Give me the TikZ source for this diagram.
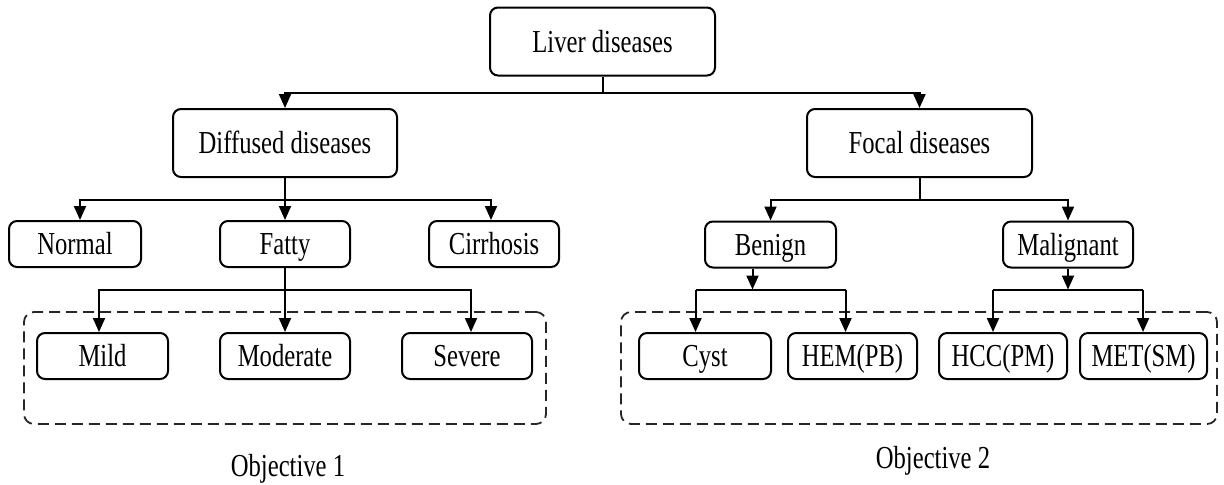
\documentclass[tikz,border=0pt]{standalone}
\usepackage{fontspec}
\setmainfont{Liberation Serif}[FakeStretch=0.77]
\usetikzlibrary{arrows.meta,calc}
\begin{document}
\begin{tikzpicture}[x=0.5pt,y=-0.5pt,
  txt/.style={font=\fontsize{16}{19}\selectfont, text height=10.5pt, text depth=0pt},
  box/.style={txt, draw, line width=1pt, rounded corners=4pt, inner sep=0pt},
  big/.style={box, minimum width=112pt, minimum height=34pt},
  small/.style={box, minimum width=65pt, minimum height=23pt},
  link/.style={line width=1pt},
  arr/.style={link, -{Triangle[length=7pt,width=6pt]}},
  dashbox/.style={draw=black!85, line width=0.9pt, dash pattern=on 5.5pt off 3pt,
    rounded corners=5pt, inner sep=0pt},
  lbl/.style={txt, inner sep=0pt}
]
\useasboundingbox (0,0) rectangle (1224,484);

% objective frames
\node[dashbox, minimum width=261pt, minimum height=56pt] (frame1) at (285,368) {};
\node[dashbox, minimum width=298pt, minimum height=56pt] (frame2) at (919,368) {};

% top levels
\node[big, minimum width=112.5pt] (liver) at (602.5,41.5) {Liver diseases};
\node[big] (diffused) at (285,143) {Diffused diseases};
\node[big, minimum width=112.5pt] (focal) at (919.5,143) {Focal diseases};

% second level
\node[small, minimum width=66pt] (normal) at (75,244) {Normal};
\node[small] (fatty) at (285,244) {Fatty};
\node[small] (cirrhosis) at (494,244) {Cirrhosis};
\node[small, minimum width=65.5pt] (benign) at (770.5,244.5) {Benign};
\node[small] (malignant) at (1068,244.5) {Malignant};

% third level
\node[small, minimum width=65.5pt] (mild) at (102.5,356) {Mild};
\node[small] (moderate) at (285,356) {Moderate};
\node[small] (severe) at (467,356) {Severe};
\node[small, minimum width=66pt] (cyst) at (705,356) {Cyst};
\node[small, minimum width=64.5pt] (hem) at (852.5,356) {HEM(PB)};
\node[small, minimum width=64pt] (hcc) at (1003,356) {HCC(PM)};
\node[small, minimum width=63.5pt] (met) at (1143.5,356) {MET(SM)};

% labels
\node[lbl] (obj1) at (288,466) {Objective 1};
\node[lbl] (obj2) at (933,458) {Objective 2};

% Liver diseases -> two groups
\draw[link] (liver.south) -- ++(0,16.5) coordinate (b0);
\draw[arr] (b0) -| (diffused.north);
\draw[arr] (b0) -| (focal.north);

% Diffused diseases -> Normal, Fatty, Cirrhosis
\draw[link] (diffused.south) -- ++(0,22) coordinate (b1);
\draw[arr] (b1) -| ($(normal.north)+(5,0)$);
\draw[arr] (b1) -- (fatty.north);
\draw[arr] (b1) -| ($(cirrhosis.north)+(-3,0)$);

% Focal diseases -> Benign, Malignant
\draw[link] (focal.south) -- ++(0,22) coordinate (b2);
\draw[arr] (b2) -| (benign.north);
\draw[arr] (b2) -| (malignant.north);

% Fatty -> grades
\draw[link] (fatty.south) -- ++(0,22) coordinate (b3);
\draw[arr] (b3) -| ($(mild.north)+(-3.5,0)$);
\draw[arr] (b3) -- (moderate.north);
\draw[arr] (b3) -| ($(severe.north)+(4,0)$);

% Benign -> Cyst, HEM
\draw[arr] ($(benign.south)+(-18,0)$) -- ++(0,21) coordinate (b4);
\draw[link] (b4) -- ++(-57,0) coordinate (b4l);
\draw[link] (b4) -- ++(93,0) coordinate (b4r);
\draw[arr] (b4l) -- (b4l |- cyst.north);
\draw[arr] (b4r) -- (b4r |- hem.north);

% Malignant -> HCC, MET
\draw[arr] (malignant.south) -- ++(0,21) coordinate (b5);
\draw[link] (b5) -- ++(-75,0) coordinate (b5l);
\draw[link] (b5) -- ++(75,0) coordinate (b5r);
\draw[arr] (b5l) -- (b5l |- hcc.north);
\draw[arr] (b5r) -- (b5r |- met.north);
\end{tikzpicture}
\end{document}
